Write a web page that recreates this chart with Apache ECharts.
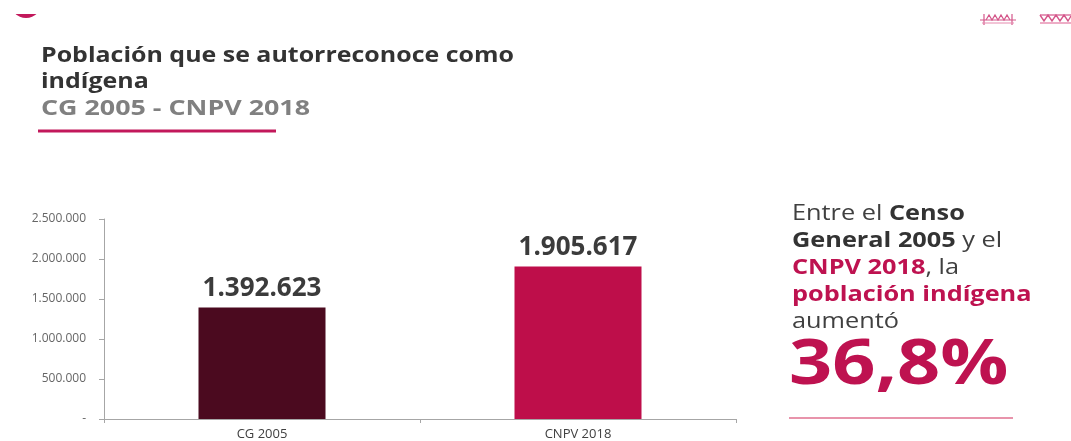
<!DOCTYPE html>
<html>
<head>
<meta charset="utf-8">
<script src="https://cdn.jsdelivr.net/npm/echarts@6/dist/echarts.min.js"></script>
<style>
  html, body { margin: 0; padding: 0; background: #ffffff; }
  #chart { width: 1071px; height: 441px; }
</style>
</head>
<body>
<div id="chart"></div>
<script>
// Census categories and self-identified indigenous population
const categories = ['CG 2005', 'CNPV 2018'];
const population = [1392623, 1905617];
const barColors = ['#4b0a1f', '#be0e4a'];
const yTicks = { min: 0, max: 2500000, interval: 500000 };

// Spanish thousands separator; zero shown as a dash
function fmt(v) {
  if (v === 0) return '-';
  return String(Math.round(v)).replace(/\B(?=(\d{3})+(?!\d))/g, '.');
}

const FONT = '"Open Sans", "Noto Sans", sans-serif';
const chart = echarts.init(document.getElementById('chart'), null, { renderer: 'canvas' });

chart.setOption({
  backgroundColor: '#ffffff',
  animation: false,
  grid: { left: 104, right: 335, top: 219, bottom: 22, containLabel: false },
  xAxis: {
    type: 'category',
    data: categories,
    axisLine: { show: true, lineStyle: { color: '#a6a6a6', width: 1 } },
    axisTick: { show: true, alignWithLabel: false, length: 4, lineStyle: { color: '#a6a6a6' } },
    axisLabel: { color: '#404040', fontFamily: FONT, fontSize: 13, margin: 9 }
  },
  yAxis: {
    type: 'value',
    min: yTicks.min,
    max: yTicks.max,
    interval: yTicks.interval,
    axisLine: { show: true, lineStyle: { color: '#a6a6a6', width: 1 } },
    axisTick: { show: true, length: 5, lineStyle: { color: '#a6a6a6' } },
    splitLine: { show: false },
    axisLabel: { color: '#666666', fontFamily: FONT, fontSize: 12, margin: 18, formatter: fmt }
  },
  series: [{
    type: 'bar',
    data: population.map((v, i) => ({ value: v, itemStyle: { color: barColors[i] } })),
    barWidth: 127,
    label: {
      show: true,
      position: 'top',
      distance: 6,
      color: '#3b3b3b',
      fontFamily: FONT,
      fontWeight: 'bold',
      fontSize: 26,
      formatter: p => fmt(p.value)
    }
  }],
  graphic: [
    // corner emblem
    { type: 'circle', shape: { cx: 26, cy: 2, r: 16 }, style: { fill: '#c2185b' }, z: 1 },
    { type: 'rect', shape: { x: 0, y: 0, width: 60, height: 14 }, style: { fill: '#ffffff' }, z: 2 },
    // ornaments, top right
    { type: 'group', x: 980, y: 14, children: [
      { type: 'line', shape: { x1: 0, y1: 6, x2: 36, y2: 6 }, style: { stroke: '#d4568a', lineWidth: 1.2 } },
      { type: 'polyline', shape: { points: [[6,6],[9,1],[12,6],[15,1],[18,6],[21,1],[24,6],[27,1],[30,6]] }, style: { stroke: '#d4568a', lineWidth: 1.2, fill: null } },
      { type: 'line', shape: { x1: 4, y1: 0, x2: 4, y2: 11 }, style: { stroke: '#d4568a', lineWidth: 1.2 } },
      { type: 'line', shape: { x1: 32, y1: 0, x2: 32, y2: 11 }, style: { stroke: '#d4568a', lineWidth: 1.2 } },
      { type: 'line', shape: { x1: 2, y1: 9, x2: 34, y2: 9 }, style: { stroke: '#e58aae', lineWidth: 1 } }
    ]},
    { type: 'group', x: 1040, y: 14, children: [
      { type: 'polyline', shape: { points: [[0,1],[4,7],[8,1],[12,7],[16,1],[20,7],[24,1],[28,7],[31,2]] }, style: { stroke: '#d4568a', lineWidth: 1.4, fill: null } },
      { type: 'line', shape: { x1: 0, y1: 1, x2: 31, y2: 1 }, style: { stroke: '#d4568a', lineWidth: 1.2 } },
      { type: 'line', shape: { x1: 0, y1: 9, x2: 31, y2: 9 }, style: { stroke: '#e58aae', lineWidth: 1.4 } }
    ]},
    // heading
    {
      type: 'text', x: 41, y: 43, scaleX: 1.134,
      style: {
        text: 'Población que se autorreconoce como\nindígena',
        textVerticalAlign: 'top',
        fontFamily: FONT, fontWeight: 'bold', fontSize: 22, lineHeight: 26, fill: '#333333'
      }
    },
    {
      type: 'text', x: 41, y: 96, scaleX: 1.22,
      style: {
        text: 'CG 2005 - CNPV 2018',
        textVerticalAlign: 'top',
        fontFamily: FONT, fontWeight: 'bold', fontSize: 22, lineHeight: 26, fill: '#808080'
      }
    },
    { type: 'rect', shape: { x: 38, y: 129.5, width: 238, height: 3 }, style: { fill: '#c2185b' } },
    // summary note
    {
      type: 'text', x: 792, y: 200, scaleX: 1.15,
      style: {
        text: '{n|Entre el }{b|Censo}\n{b|General 2005}{n| y el}\n{r|CNPV 2018}{n|, la}\n{r|población indígena}\n{n|aumentó}',
        textVerticalAlign: 'top',
        rich: {
          n: { fontFamily: FONT, fontSize: 22, lineHeight: 27, fill: '#404040' },
          b: { fontFamily: FONT, fontSize: 22, fontWeight: 'bold', lineHeight: 27, fill: '#333333' },
          r: { fontFamily: FONT, fontSize: 22, fontWeight: 'bold', lineHeight: 27, fill: '#be1250' }
        }
      }
    },
    {
      type: 'text', x: 789, y: 335, scaleX: 1.2,
      style: { text: '36,8%', textVerticalAlign: 'top', fontFamily: FONT, fontWeight: 'bold', fontSize: 63, fill: '#be1250' }
    },
    { type: 'line', shape: { x1: 789, y1: 418, x2: 1013, y2: 418 }, style: { stroke: '#e0718f', lineWidth: 1.5 } }
  ]
});
</script>
</body>
</html>
